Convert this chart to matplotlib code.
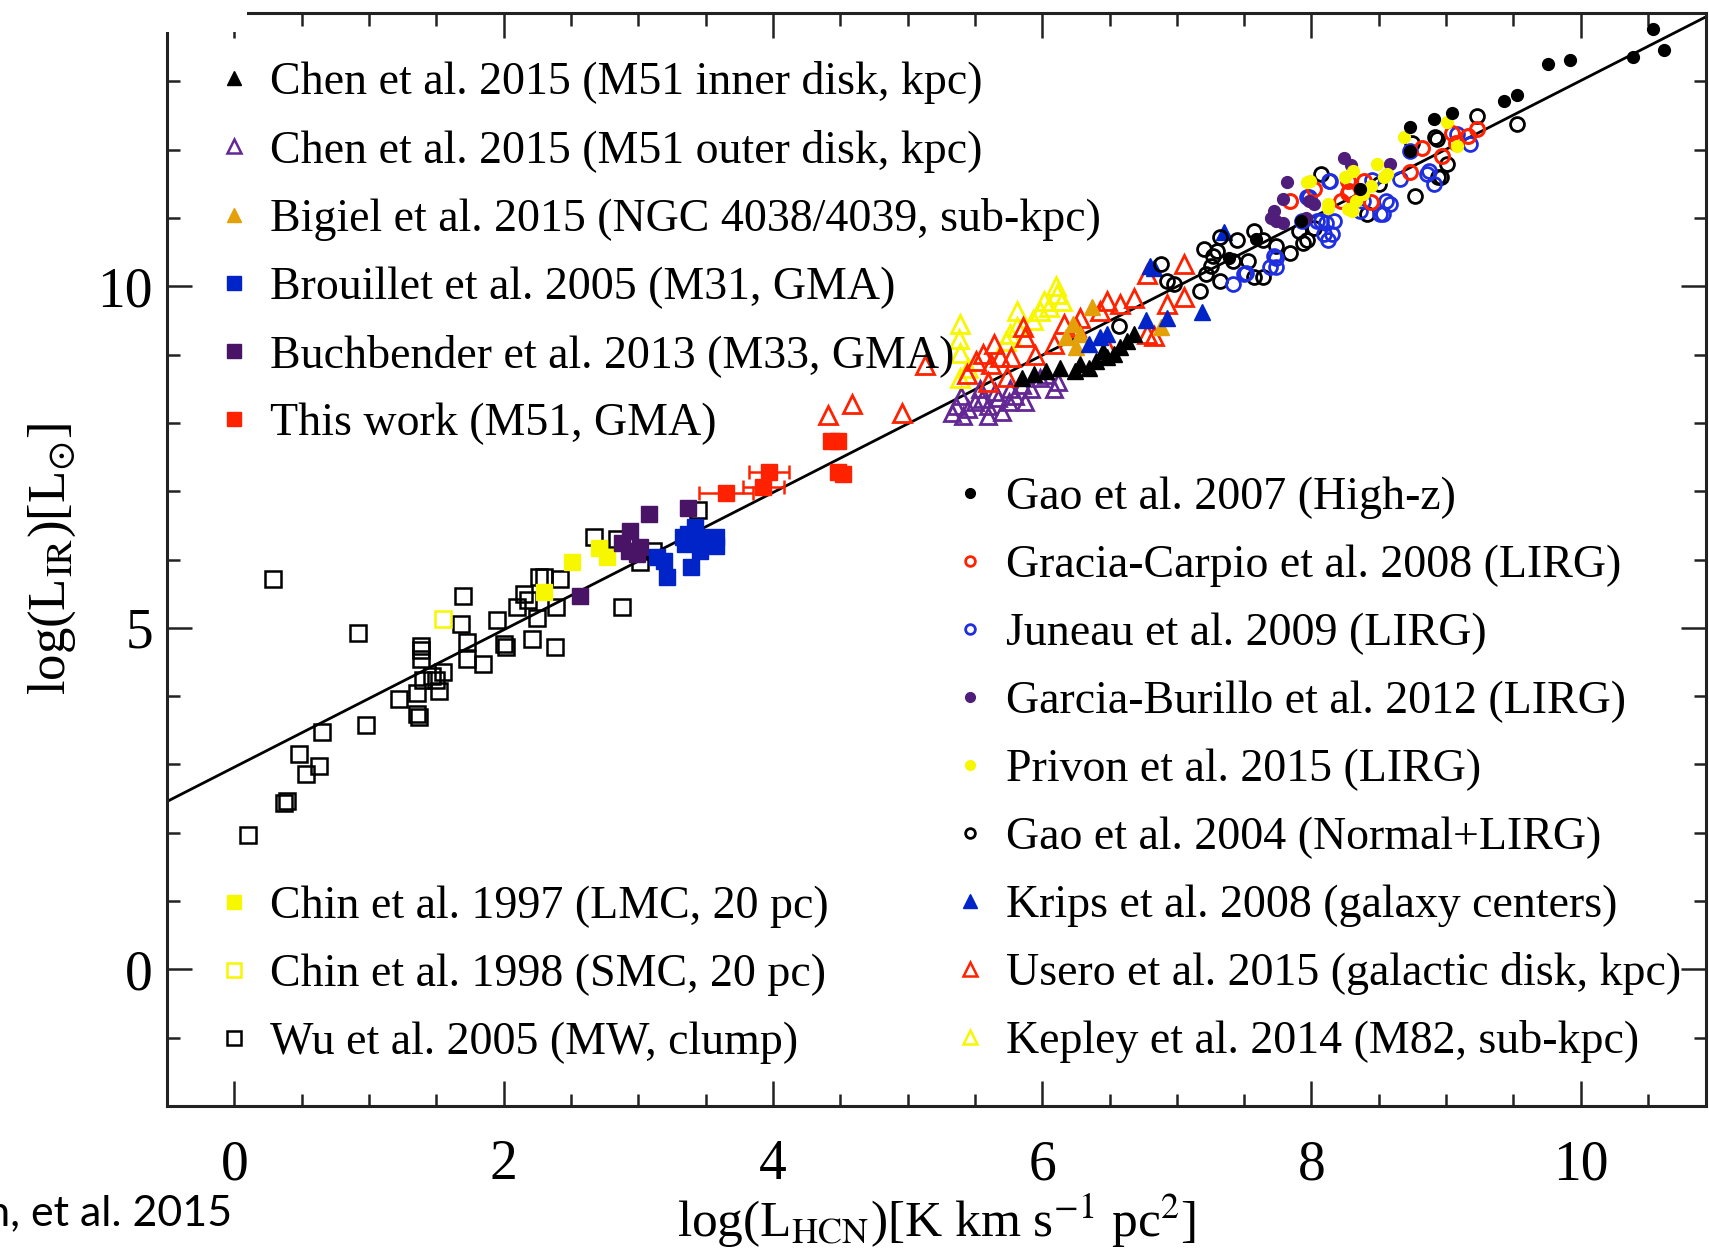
import matplotlib
matplotlib.use('Agg')
import matplotlib.pyplot as plt
from matplotlib.lines import Line2D
from matplotlib.patches import Rectangle
import numpy as np

plt.rcParams['font.family'] = ['Liberation Serif', 'DejaVu Serif']
plt.rcParams['mathtext.fontset'] = 'stix'

# ---------------- data (log L_HCN, log L_IR) ----------------
wu_x = [0.29, 0.92, 0.10, 0.39, 0.37, 0.53, 0.63, 0.48, 0.65, 0.98, 1.22, 1.36, 1.37, 1.36, 1.40,
        1.39, 1.39, 1.39, 1.50, 1.52, 1.55, 1.47, 1.70, 1.68, 1.73, 1.73, 1.85, 1.95, 2.00, 2.02,
        2.10, 2.15, 2.21, 2.25, 2.26, 2.30, 2.42, 2.38, 2.39, 2.67, 2.88, 2.84, 3.01, 2.18, 3.44, 3.11]
wu_y = [5.72, 4.93, 1.96, 2.47, 2.44, 2.86, 2.98, 3.16, 3.47, 3.57, 3.96, 3.74, 3.69, 4.05, 4.23,
        4.67, 4.74, 4.55, 4.23, 4.08, 4.35, 4.29, 5.47, 5.06, 4.79, 4.55, 4.47, 5.11, 4.77, 4.72,
        5.30, 5.50, 4.84, 5.15, 5.74, 5.74, 5.72, 4.72, 5.30, 6.33, 5.30, 6.30, 5.96, 5.40, 6.72, 6.13]

chin97_x = [2.30, 2.51, 2.71, 2.77]
chin97_y = [5.52, 5.96, 6.17, 6.04]

chin98_x = [1.55]
chin98_y = [5.13]

buch_x = [2.57, 2.94, 3.08, 2.93, 2.99, 3.37, 2.88, 3.01]
buch_y = [5.47, 6.42, 6.67, 6.13, 6.08, 6.76, 6.24, 6.18]

brou_x = [3.19, 3.21, 3.39, 3.37, 3.46, 3.58, 3.58, 3.46, 3.35, 3.33, 3.42, 3.14]
brou_y = [5.98, 5.74, 5.89, 6.37, 6.33, 6.33, 6.20, 6.13, 6.23, 6.33, 6.47, 6.03]

tw_x = [3.65, 3.93, 3.97, 4.43, 4.48, 4.48, 4.52]
tw_y = [6.98, 7.06, 7.28, 7.73, 7.73, 7.28, 7.25]
tw_xerr = [0.20, 0.15, 0.15, 0.0, 0.0, 0.0, 0.0]

chen_out_x = [5.36, 5.41, 5.50, 5.60, 5.67, 5.76, 5.80, 5.92, 5.98, 6.09, 6.12, 5.54, 5.40, 5.60,
              5.87, 5.70, 5.33, 6.03, 5.45, 5.65, 5.85, 5.55, 5.75]
chen_out_y = [8.25, 8.10, 8.30, 8.25, 8.36, 8.50, 8.40, 8.50, 8.65, 8.50, 8.60, 8.50, 8.40, 8.10,
              8.30, 8.16, 8.15, 8.70, 8.20, 8.45, 8.55, 8.35, 8.30]

kep_x = [5.39, 5.38, 5.39, 5.81, 5.81, 6.01, 6.10, 6.11, 5.98, 5.76, 5.39, 5.73, 6.15, 5.93, 6.05, 5.45]
kep_y = [9.45, 9.23, 9.03, 9.64, 9.40, 9.79, 10.01, 9.89, 9.64, 9.30, 8.65, 9.20, 9.78, 9.50, 9.70, 8.80]

use_x = [4.41, 4.59, 4.96, 5.13, 5.44, 5.56, 5.64, 5.69, 5.74, 5.86, 5.87, 5.77, 5.62, 5.51, 6.09,
         6.16, 6.28, 6.43, 6.48, 6.58, 6.68, 6.48, 6.78, 7.05, 7.05, 6.93, 6.78, 6.83, 6.25, 5.60, 5.95]
use_y = [8.11, 8.28, 8.15, 8.84, 8.72, 9.01, 9.15, 8.96, 8.67, 9.40, 9.25, 8.96, 8.86, 8.91, 9.15,
         9.45, 9.54, 9.64, 9.79, 9.74, 9.83, 9.11, 10.18, 10.32, 9.84, 9.74, 9.30, 9.27, 9.40, 8.60, 9.00]

chen_in_x = [5.94, 6.03, 6.13, 6.28, 6.40, 6.48, 6.58, 6.63, 6.53, 6.68, 6.24, 6.35, 5.85, 6.45]
chen_in_y = [8.72, 8.76, 8.81, 8.86, 8.91, 8.96, 9.11, 9.20, 9.01, 9.30, 8.76, 8.81, 8.65, 9.05]

big_x = [6.37, 6.23, 6.28, 6.25, 6.88, 6.18]
big_y = [9.69, 9.45, 9.30, 9.11, 9.40, 9.25]

krips_x = [6.80, 7.35, 6.77, 6.43, 6.48, 6.93, 7.19, 6.35, 6.83]
krips_y = [10.30, 10.79, 9.50, 9.25, 9.30, 9.54, 9.62, 9.15, 10.27]

gao04_x = [6.88, 6.93, 6.98, 6.57, 7.17, 7.32, 7.42, 7.45, 7.57, 7.64, 7.74, 7.84, 7.97, 7.91, 7.53,
           7.30, 7.64, 7.57, 7.25, 7.32, 8.02, 8.07, 8.41, 8.77, 8.93, 8.96, 7.20, 9.23, 9.53, 8.92,
           8.75, 9.01, 8.94, 8.50, 7.94, 7.22, 7.27]
gao04_y = [10.32, 10.08, 10.04, 9.42, 9.93, 10.08, 10.37, 10.67, 10.81, 10.67, 10.59, 10.49, 10.67,
           10.81, 10.37, 10.52, 10.13, 10.13, 10.30, 10.72, 10.86, 11.64, 11.06, 11.32, 12.15, 11.60,
           10.54, 12.49, 12.38, 12.18, 12.10, 11.79, 11.60, 11.50, 10.64, 10.18, 10.45]

jun_x = [7.42, 7.50, 7.69, 7.74, 7.74, 8.07, 8.15, 8.12, 8.36, 8.53, 7.97, 8.17, 8.51, 8.58, 8.55,
         8.66, 8.73, 8.87, 8.91, 9.18, 9.08, 8.45, 8.04, 8.09, 8.14, 7.93, 7.98, 8.13, 8.11, 7.72,
         7.51, 8.38, 8.86]
jun_y = [10.03, 10.18, 10.28, 10.42, 10.28, 10.96, 10.77, 10.67, 11.10, 11.06, 11.31, 10.96, 11.06,
         11.20, 11.25, 11.57, 11.98, 11.69, 11.50, 12.08, 12.23, 11.55, 10.96, 10.77, 11.54, 10.96,
         11.31, 11.54, 10.92, 10.45, 10.20, 11.25, 11.64]

grac_x = [9.23, 9.16, 9.04, 9.07, 8.82, 8.97, 8.73, 8.39, 8.27, 8.02, 8.27, 8.22, 8.44, 7.84, 8.28]
grac_y = [12.30, 12.20, 12.25, 12.09, 12.03, 11.91, 11.67, 11.54, 11.54, 11.42, 11.37, 11.25, 11.23,
          11.25, 11.40]

gbur_x = [8.24, 8.58, 7.98, 7.96, 7.82, 7.79, 7.72, 7.74, 7.70, 7.79, 8.02, 8.29]
gbur_y = [11.88, 11.79, 11.25, 11.00, 11.52, 11.28, 11.10, 10.95, 11.00, 10.92, 11.20, 11.78]

priv_x = [8.69, 9.01, 8.49, 8.56, 8.33, 8.27, 7.99, 8.12, 9.08, 8.38, 7.97, 8.12, 8.25, 8.31, 8.54,
          8.44, 8.30]
priv_y = [12.18, 12.40, 11.79, 11.64, 11.25, 11.13, 11.54, 11.20, 12.05, 11.35, 11.52, 11.15, 11.60,
          11.69, 11.60, 11.47, 11.10]

gao07_x = [10.54, 10.62, 10.39, 9.92, 9.76, 9.53, 9.43, 9.04, 8.91, 8.73, 8.73, 8.36, 7.92, 7.59, 7.39]
gao07_y = [13.76, 13.46, 13.35, 13.31, 13.25, 12.80, 12.71, 12.54, 12.45, 12.33, 11.98, 11.42, 10.96,
           10.69, 10.42]

FIT_SLOPE = 1.005
FIT_INTERCEPT = 2.96

labels_tl = ["Chen et al. 2015 (M51 inner disk, kpc)",
             "Chen et al. 2015 (M51 outer disk, kpc)",
             "Bigiel et al. 2015 (NGC 4038/4039, sub-kpc)",
             "Brouillet et al. 2005 (M31, GMA)",
             "Buchbender et al. 2013 (M33, GMA)",
             "This work (M51, GMA)"]
labels_bl = ["Chin et al. 1997 (LMC, 20 pc)",
             "Chin et al. 1998 (SMC, 20 pc)",
             "Wu et al. 2005 (MW, clump)"]
labels_r = ["Gao et al. 2007 (High-z)",
            "Gracia-Carpio et al. 2008 (LIRG)",
            "Juneau et al. 2009 (LIRG)",
            "Garcia-Burillo et al. 2012 (LIRG)",
            "Privon et al. 2015 (LIRG)",
            "Gao et al. 2004 (Normal+LIRG)",
            "Krips et al. 2008 (galaxy centers)",
            "Usero et al. 2015 (galactic disk, kpc)",
            "Kepley et al. 2014 (M82, sub-kpc)"]

# ---------------- colours ----------------
C_BLACK = '#000000'
C_PURPLE_OPEN = '#632893'
C_ORANGE = '#e3a008'
C_BLUE_SQ = '#0024c8'
C_PURPLE_SQ = '#4a1466'
C_RED = '#ff2200'
C_YELLOW = '#f7f700'
C_BLUE = '#1f2fe0'
C_PURPLE_DOT = '#4f1d7a'

W, H = 1709, 1252
fig = plt.figure(figsize=(W / 100, H / 100), dpi=100)
ax = fig.add_axes([167 / W, 1 - 1106 / H, 1539 / W, 1093 / H])

def pts(ax, x, y, marker, ms, color, filled, mew, z=2):
    ax.plot(x, y, linestyle='none', marker=marker, ms=ms,
            mfc=color if filled else 'none', mec=color, mew=mew, zorder=z)

pts(ax, wu_x, wu_y, 's', 11, C_BLACK, False, 1.8)
pts(ax, chin98_x, chin98_y, 's', 11, C_YELLOW, False, 1.8)
pts(ax, chin97_x, chin97_y, 's', 11, C_YELLOW, True, 1.0)
pts(ax, buch_x, buch_y, 's', 11, C_PURPLE_SQ, True, 1.0)
pts(ax, brou_x, brou_y, 's', 11, C_BLUE_SQ, True, 1.0)
ax.errorbar(tw_x, tw_y, xerr=tw_xerr, fmt='s', ms=11, mfc=C_RED, mec=C_RED,
            ecolor=C_RED, elinewidth=1.8, capsize=5, capthick=1.8, zorder=3)
pts(ax, chen_out_x, chen_out_y, '^', 12, C_PURPLE_OPEN, False, 2.0)
pts(ax, kep_x, kep_y, '^', 13, C_YELLOW, False, 2.0)
pts(ax, use_x, use_y, '^', 13, C_RED, False, 2.0)
pts(ax, chen_in_x, chen_in_y, '^', 11, C_BLACK, True, 1.0)
pts(ax, big_x, big_y, '^', 11, C_ORANGE, True, 1.0)
pts(ax, krips_x, krips_y, '^', 11, C_BLUE_SQ, True, 1.0)
pts(ax, gao04_x, gao04_y, 'o', 10, C_BLACK, False, 2.0)
pts(ax, jun_x, jun_y, 'o', 10, C_BLUE, False, 2.0)
pts(ax, grac_x, grac_y, 'o', 10, C_RED, False, 2.2)
pts(ax, gbur_x, gbur_y, 'o', 8.5, C_PURPLE_DOT, True, 1.0)
pts(ax, priv_x, priv_y, 'o', 8.5, C_YELLOW, True, 1.0)
pts(ax, gao07_x, gao07_y, 'o', 8.5, C_BLACK, True, 1.0)

ax.set_xlim(-0.5, 10.93)
ax.set_ylim(-2, 14)
xs = np.array(ax.get_xlim())
ax.plot(xs, FIT_SLOPE * xs + FIT_INTERCEPT, color='black', lw=2.0, zorder=1)

# ticks & spines
ax.set_xticks([0, 2, 4, 6, 8, 10])
ax.set_xticks(np.arange(-0.5, 11, 0.5), minor=True)
ax.set_yticks([0, 5, 10])
ax.set_yticks(np.arange(-2, 15, 1), minor=True)
ax.tick_params(which='both', direction='in', top=True, right=True, width=1.8, color='#222222')
ax.tick_params(which='major', length=18, labelsize=40)
ax.tick_params(which='minor', length=9)
ax.tick_params(axis='x', which='major', pad=24)
ax.tick_params(axis='y', which='major', pad=10)
for s in ax.spines.values():
    s.set_linewidth(2.2)
    s.set_color('#222222')

ax.set_xlabel(r'log(L$_{\mathrm{HCN}}$)[K km s$^{\mathrm{-1}}$ pc$^{\mathrm{2}}$]', fontsize=37, labelpad=0)
ax.set_ylabel(r'log(L$_{\mathrm{IR}}$)[L$_{\odot}$]', fontsize=38, labelpad=14)

# legends
def h(marker, ms, color, filled, mew):
    return Line2D([], [], linestyle='none', marker=marker, ms=ms,
                  mfc=color if filled else 'none', mec=color, mew=mew)

handles_tl = [h('^', 10, C_BLACK, True, 1), h('^', 10, C_PURPLE_OPEN, False, 1.8),
              h('^', 10, C_ORANGE, True, 1), h('s', 10, C_BLUE_SQ, True, 1),
              h('s', 10, C_PURPLE_SQ, True, 1), h('s', 10, C_RED, True, 1)]
handles_bl = [h('s', 10, C_YELLOW, True, 1), h('s', 10, C_YELLOW, False, 1.8),
              h('s', 10, C_BLACK, False, 1.8)]
handles_r = [h('o', 7, C_BLACK, True, 1), h('o', 7, C_RED, False, 2),
             h('o', 7, C_BLUE, False, 2), h('o', 7, C_PURPLE_DOT, True, 1),
             h('o', 7, C_YELLOW, True, 1), h('o', 7, C_BLACK, False, 2),
             h('^', 10, C_BLUE_SQ, True, 1), h('^', 10, C_RED, False, 1.8),
             h('^', 10, C_YELLOW, False, 1.8)]

leg_kw = dict(frameon=False, fontsize=33, loc='upper left', borderpad=0, borderaxespad=0,
              handlelength=0.78, handletextpad=0.40, labelspacing=0.555)
leg1 = ax.legend(handles_tl, labels_tl, bbox_to_anchor=(0.0318, 0.956), **leg_kw)
ax.add_artist(leg1)
leg2 = ax.legend(handles_bl, labels_bl, bbox_to_anchor=(0.0318, 0.202), **leg_kw)
ax.add_artist(leg2)
leg3 = ax.legend(handles_r, labels_r, bbox_to_anchor=(0.510, 0.576), **leg_kw)

# cropped top-left corner of the original frame
fig.patches.append(Rectangle((0, 1 - 32 / H), 247 / W, 32 / H, transform=fig.transFigure,
                             facecolor='white', edgecolor='none', zorder=10))

fig.text(232 / W, 1 - 1213 / H, 'Chen, et al. 2015', ha='right', va='center',
         family=['Lato', 'DejaVu Sans'], fontsize=31)

fig.savefig('out.png', dpi=100)
